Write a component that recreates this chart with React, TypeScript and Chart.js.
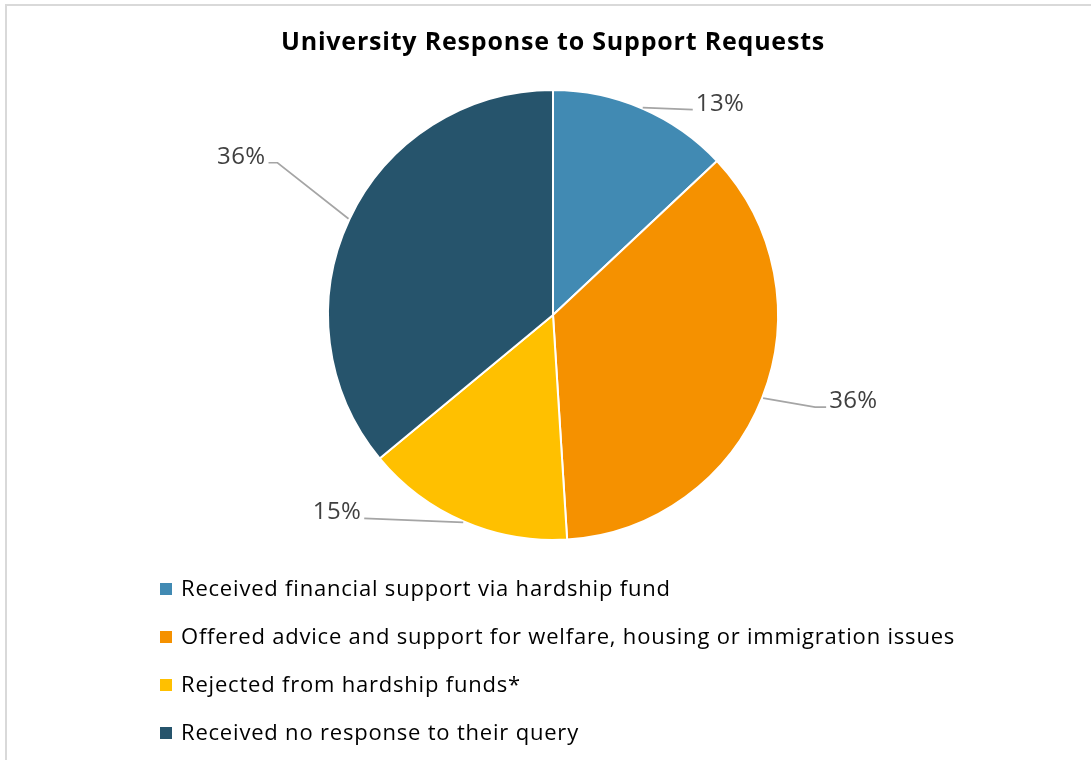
import React, { useEffect, useRef } from "react";
import { Chart, registerables } from "chart.js";

Chart.register(...registerables);

const TITLE = "University Response to Support Requests";
const CATEGORIES = [
  "Received financial support via hardship fund",
  "Offered advice and support for welfare, housing or immigration issues",
  "Rejected from hardship funds*",
  "Received no response to their query",
];
const VALUES = [13, 36, 15, 36];
const COLORS = ["#418AB3", "#F59100", "#FFC000", "#26546C"];

// leader-line geometry (relative to the arc's outer mid point): elbow and end offsets, side
const LEADERS = [
  { elbow: [50, 2], end: [50, 2], side: 1 },
  { elbow: [52, 9], end: [63, 9], side: 1 },
  { elbow: [-99, -4], end: [-99, -4], side: -1 },
  { elbow: [-71, -56], end: [-80, -56], side: -1 },
];

const FONT = "'Open Sans', sans-serif";

const overlay = {
  id: "overlay",
  afterDraw(chart: any) {
    const ctx = chart.ctx as any;
    const meta = chart.getDatasetMeta(0);
    const ds = chart.data.datasets[0];
    const total = (ds.data as number[]).reduce((a, b) => a + b, 0);
    ctx.save();
    // title
    ctx.fillStyle = "#000";
    ctx.font = `bold 25px ${FONT}`;
    ctx.letterSpacing = "0.8px";
    ctx.textAlign = "center";
    ctx.textBaseline = "alphabetic";
    ctx.fillText(TITLE, 553, 50);

    // leader lines + percent labels
    meta.data.forEach((arc: any, i: number) => {
      const p = arc.getProps(["x", "y", "startAngle", "endAngle", "outerRadius"], true);
      const mid = (p.startAngle + p.endAngle) / 2;
      const r = p.outerRadius + 1;
      const sx = p.x + Math.cos(mid) * r;
      const sy = p.y + Math.sin(mid) * r;
      const L = LEADERS[i];
      const ex = sx + L.elbow[0], ey = sy + L.elbow[1];
      const fx = sx + L.end[0], fy = sy + L.end[1];
      ctx.strokeStyle = "#A5A5A5";
      ctx.lineWidth = 1.7;
      ctx.beginPath();
      ctx.moveTo(sx, sy);
      ctx.lineTo(ex, ey);
      ctx.lineTo(fx, fy);
      ctx.stroke();
      const pct = Math.round(((ds.data[i] as number) / total) * 100) + "%";
      ctx.fillStyle = "#404040";
      ctx.font = `24px ${FONT}`;
      ctx.letterSpacing = "0.4px";
      ctx.textBaseline = "alphabetic";
      ctx.textAlign = L.side > 0 ? "left" : "right";
      ctx.fillText(pct, fx + L.side * 3, fy + 1);
    });

    // legend
    ctx.font = `22px ${FONT}`;
    ctx.letterSpacing = "0.8px";
    ctx.textAlign = "left";
    (chart.data.labels as string[]).forEach((lab, i) => {
      const base = 596 + i * 48;
      ctx.fillStyle = (ds.backgroundColor as string[])[i];
      ctx.fillRect(160, base - 13, 12, 12);
      ctx.fillStyle = "#000";
      ctx.fillText(lab, 181, base);
    });
    ctx.restore();
  },
};

export default function App() {
  const ref = useRef<HTMLCanvasElement | null>(null);
  useEffect(() => {
    if (!ref.current) return;
    const chart = new Chart(ref.current, {
      type: "pie",
      data: {
        labels: CATEGORIES,
        datasets: [
          {
            data: VALUES,
            backgroundColor: COLORS,
            borderColor: "#FFFFFF",
            borderWidth: 2,
          },
        ],
      },
      options: {
        responsive: false,
        animation: false,
        layout: { padding: { left: 327, top: 89, right: 312, bottom: 219 } },
        plugins: {
          legend: { display: false },
          title: { display: false },
          tooltip: { enabled: false },
        },
      },
      plugins: [overlay],
    });
    return () => chart.destroy();
  }, []);
  return (
    <div style={{ position: "fixed", left: 0, top: 0, width: 1091, height: 760, background: "#fff" }}>
      <div
        style={{
          position: "absolute",
          left: 5,
          top: 4,
          right: 0,
          bottom: 0,
          borderTop: "2px solid #D9D9D9",
          borderLeft: "2px solid #D9D9D9",
        }}
      />
      <canvas ref={ref} width={1091} height={760} style={{ position: "absolute", left: 0, top: 0 }} />
    </div>
  );
}
